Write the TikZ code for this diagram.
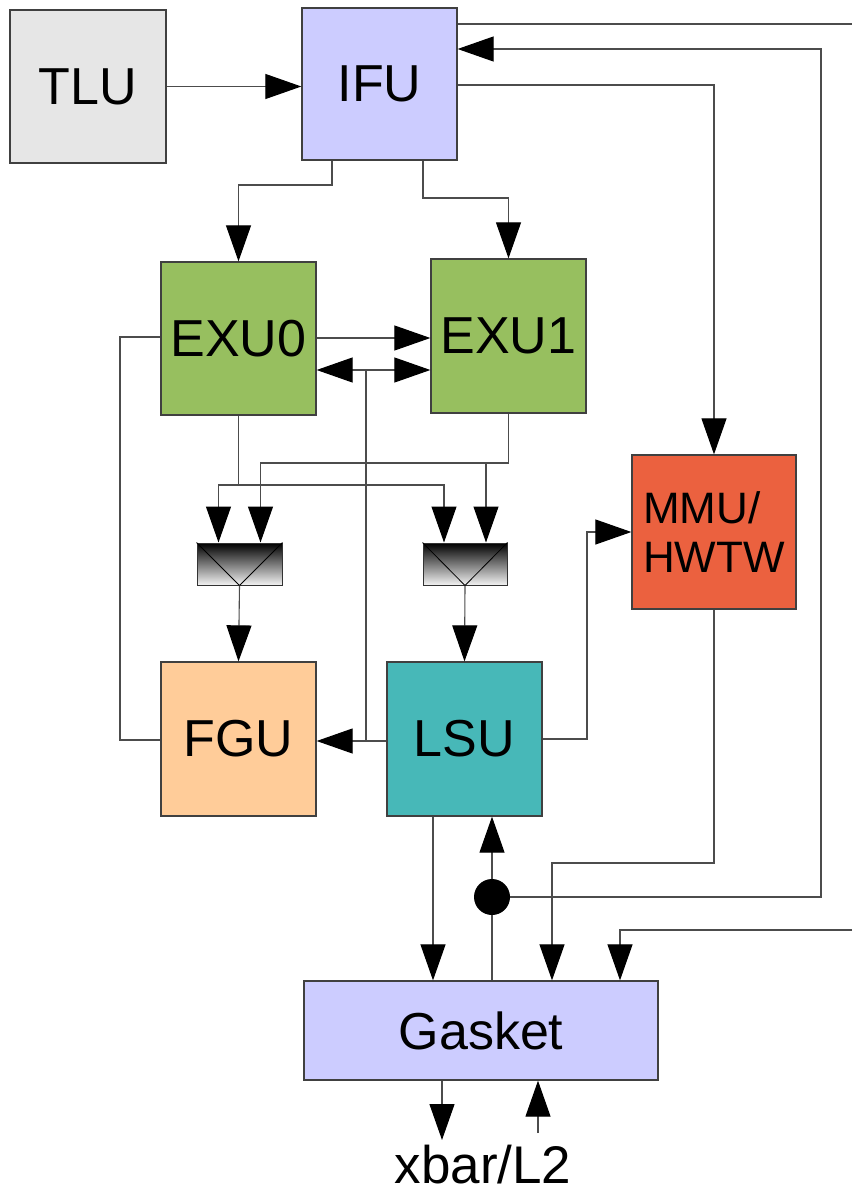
\documentclass[tikz,border=0pt]{standalone}
\usepackage{fontspec}
\setmainfont{Liberation Sans}
\usepackage{xcolor}
\usepackage{tikz}
\usetikzlibrary{arrows.meta}
\definecolor{tlucol}{HTML}{E6E6E6}
\definecolor{ifucol}{HTML}{CCCCFF}
\definecolor{exucol}{HTML}{97BF5F}
\definecolor{mmucol}{HTML}{EB613F}
\definecolor{fgucol}{HTML}{FFCC99}
\definecolor{lsucol}{HTML}{47B8B8}
\tikzset{
unit/.style={
  rectangle,
  draw=black!75,
  line width=1.3pt,
  minimum width=155pt,
  minimum height=153pt,
  font=\fontsize{52}{60}\selectfont,
  inner sep=0pt
},
muxbox/.style={
  rectangle,
  draw=black!80,
  line width=1pt,
  top color=black,
  bottom color=black!5,
  minimum width=85pt,
  minimum height=42pt
},
tip/.tip={Triangle[length=36pt,width=25pt,color=black]},
line/.style={draw=black!70,line width=1.1pt},
wire/.style={line,-tip},
}

\begin{document}
\begin{tikzpicture}[x=1pt,y=-1pt]
\useasboundingbox[fill=white] (0,0) rectangle (852,1196);
% the units
\node[unit,fill=tlucol,minimum width=156pt] (tlu) at (88,86.5) {TLU};
\node[unit,fill=ifucol,minimum height=152pt] (ifu) at (379.5,84) {IFU};
\node[unit,fill=exucol] (exu0) at (238.5,338.5) {EXU0};
\node[unit,fill=exucol,minimum height=154pt] (exu1) at (508.5,336) {EXU1};
\node[unit,fill=mmucol,minimum width=164pt,minimum height=154pt,
  font=\fontsize{44}{49}\selectfont,align=left] (mmu) at (714,532) {MMU/\\HWTW};
\node[unit,fill=fgucol,minimum height=154pt] (fgu) at (238.5,739) {FGU};
\node[unit,fill=lsucol,minimum height=154pt] (lsu) at (464.5,739) {LSU};
\node[unit,fill=ifucol,minimum width=354pt,minimum height=99pt] (gasket) at (481,1030.5) {Gasket};
\node[muxbox] (muxa) at (239.5,564) {};
\node[muxbox,minimum width=84pt] (muxb) at (465,564) {};
\node[circle,fill=black,minimum size=36pt,inner sep=0pt] (dot) at (492,897) {};
\node[anchor=base,inner sep=0pt,font=\fontsize{53}{60}\selectfont] (xbar) at (483,1183) {xbar/L2};
\foreach \m in {muxa,muxb}
{
  \draw[line width=0.8pt] (\m.north west) -- (\m.south) -- (\m.north east);
}
% the junctions and free ends
\coordinate (ja) at (exu0.south |- 0,485);
\coordinate (jb) at (exu1.south |- 0,463);
\coordinate (outa) at (852,24);
\coordinate (ina) at (852,930);
\coordinate (toxbar) at (442,1140);
\coordinate (fromxbar) at (538,1133);
% the arrows
\draw[wire] (tlu) -- (tlu -| ifu.west);
\draw[line] (ifu.east |- outa) -- (outa);
\draw[wire] (ifu.east |- 0,85) -| (mmu.north);
\draw[wire] (dot.east) -| (821,49) -- (ifu.east |- 0,49);
\draw[wire] (ifu.south -| 332,0) |- (exu0.north |- 0,185) -- (exu0.north);
\draw[wire] (ifu.south -| 423,0) |- (exu1.north |- 0,198) -- (exu1.north);
\draw[wire] (exu0.east |- 0,338) -- (exu1.west |- 0,338);
\draw[line,tip-tip] (exu0.east |- 0,370) -- (exu1.west |- 0,370);
\draw[line] (366,370) -- (366,741);
\draw[wire] (lsu.west |- 0,741) -- (fgu.east |- 0,741);
\draw[line] (exu0.west |- 0,337) -| (120,740) -- (fgu.west |- 0,740);
\draw[line] (exu0.south) -- (ja);
\draw[line] (exu1.south) -- (jb);
\draw[wire] (ja) -| ([xshift=-21pt]muxa.north);
\draw[wire] (ja) -| ([xshift=-21pt]muxb.north);
\draw[wire] (jb) -| ([xshift=21pt]muxa.north);
\draw[wire] (jb) -| ([xshift=21pt]muxb.north);
\draw[wire] (muxa.south) -- (fgu.north);
\draw[wire] (muxb.south) -- (lsu.north);
\draw[wire] (lsu.east |- 0,739) -| (587,532) -- (mmu.west |- 0,532);
\draw[wire] (lsu.south -| 433,0) -- (gasket.north -| 433,0);
\draw[line] (gasket.north -| dot) -- (dot);
\draw[wire] (dot) -- (lsu.south -| dot);
\draw[wire] (mmu.south) |- (552,863) -- (gasket.north -| 552,0);
\draw[wire] (ina) -| (gasket.north -| 620,0);
\draw[wire] (gasket.south -| toxbar) -- (toxbar);
\draw[wire] (fromxbar) -- (gasket.south -| fromxbar);
\end{tikzpicture}
\end{document}
